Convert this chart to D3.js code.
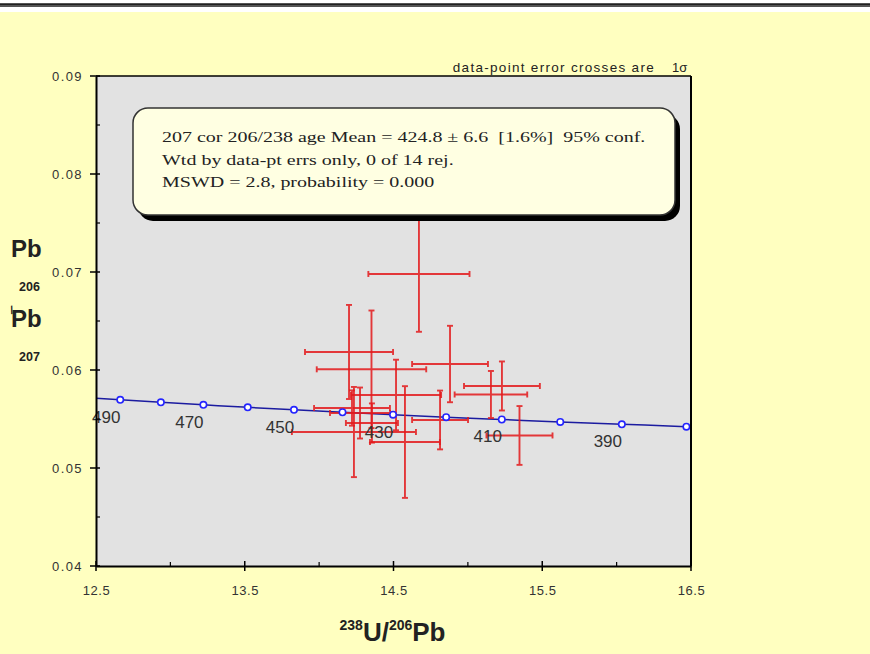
<!DOCTYPE html>
<html>
<head>
<meta charset="utf-8">
<script src="https://cdn.jsdelivr.net/npm/d3@7"></script>
<style>
  body { margin: 0; background: #ffffc0; }
  svg { display: block; }
  text { font-family: "Liberation Sans", Arial, Helvetica, sans-serif; }
</style>
</head>
<body>
<div id="chart"></div>
<script>
// ---- data ----
// 238U/206Pb, 207Pb/206Pb and 1 sigma errors for the 14 spots
var ratioU = [14.671, 14.201, 14.352, 14.880, 15.155, 15.229, 15.347, 14.234, 14.577, 14.221, 14.813, 14.517, 14.275, 14.355];
var ratioPb = [0.0698, 0.06184, 0.06007, 0.06061, 0.0575, 0.05837, 0.05332, 0.05367, 0.05265, 0.05612, 0.0549, 0.05745, 0.05561, 0.05459];
var errU = [0.340, 0.296, 0.368, 0.255, 0.244, 0.255, 0.222, 0.417, 0.235, 0.255, 0.188, 0.303, 0.202, 0.175];
var errPb = [0.0059, 0.0048, 0.0060, 0.0039, 0.0024, 0.0025, 0.0030, 0.0046, 0.0057, 0.0018, 0.0030, 0.0036, 0.0026, 0.0020];

// concordia (Tera-Wasserburg) age marks, Ma
var concAges = [490, 480, 470, 460, 450, 440, 430, 420, 410, 400, 390, 380];
var concU = [12.663, 12.936, 13.222, 13.520, 13.831, 14.157, 14.497, 14.854, 15.228, 15.621, 16.035, 16.469];
var concPb = [0.05696, 0.05670, 0.05645, 0.05619, 0.05594, 0.05569, 0.05544, 0.05519, 0.05495, 0.05470, 0.05446, 0.05422];
// curve ends at the plot edges
var concEndU = [12.5, 16.5];
var concEndPb = [0.05712, 0.05420];
var labelAges = [490, 470, 450, 430, 410, 390];

var xTicks = [12.5, 13.5, 14.5, 15.5, 16.5];
var yTicks = [0.04, 0.05, 0.06, 0.07, 0.08, 0.09];

var boxLines = [
  "207 cor 206/238 age Mean = 424.8 \u00b1 6.6  [1.6%]  95% conf.",
  "Wtd by data-pt errs only, 0 of 14 rej.",
  "MSWD = 2.8, probability = 0.000"
];

var svgWidth = 870;
var svgHeight = 654;

var margin = { top: 76, left: 96, right: 179, bottom: 88 };
var width = svgWidth - margin.left - margin.right;
var height = svgHeight - margin.top - margin.bottom;

var svg = d3.select("#chart")
  .append("svg")
  .attr("width", svgWidth)
  .attr("height", svgHeight);

// page background + the rule at the very top
svg.append("rect")
  .attr("width", svgWidth).attr("height", svgHeight)
  .attr("fill", "#ffffc0");
svg.append("rect")
  .attr("x", 0).attr("y", 0).attr("width", svgWidth).attr("height", 12)
  .attr("fill", "#ffffff");
svg.append("rect")
  .attr("x", 0).attr("y", 3).attr("width", svgWidth).attr("height", 4)
  .attr("fill", "#555");
svg.append("line")
  .attr("x1", 0).attr("x2", svgWidth).attr("y1", 4.5).attr("y2", 4.5)
  .attr("stroke", "#222").attr("stroke-width", 1);

var chartGroup = svg.append("g")
  .attr("transform", `translate(${margin.left}, ${margin.top})`);

var xScale = d3.scaleLinear().domain([12.5, 16.5]).range([0, width]);
var yScale = d3.scaleLinear().domain([0.04, 0.09]).range([height, 0]);

// plot area
chartGroup.append("rect")
  .attr("width", width).attr("height", height)
  .attr("fill", "#e2e2e2");

chartGroup.append("clipPath").attr("id", "plotclip")
  .append("rect").attr("width", width).attr("height", height);

// concordia curve
var concPts = [[concEndU[0], concEndPb[0]]];
concU.forEach(function(u, i) { concPts.push([u, concPb[i]]); });
concPts.push([concEndU[1], concEndPb[1]]);

var line = d3.line()
  .x(d => xScale(d[0]))
  .y(d => yScale(d[1]))
  .curve(d3.curveMonotoneX);

var plot = chartGroup.append("g").attr("clip-path", "url(#plotclip)");

plot.append("path")
  .datum(concPts)
  .attr("d", line)
  .attr("fill", "none")
  .attr("stroke", "#1c1ca0")
  .attr("stroke-width", 1.5);

// error crosses
var spots = ratioU.map(function(u, i) {
  return { u: u, pb: ratioPb[i], su: errU[i], spb: errPb[i] };
});
var cap = 3;
var crosses = plot.selectAll(".cross")
  .data(spots)
  .enter()
  .append("g")
  .attr("class", "cross")
  .attr("stroke", "#e41a1c")
  .attr("stroke-width", 1.9)
  .attr("opacity", 0.85);

crosses.append("line")
  .attr("x1", d => xScale(d.u - d.su)).attr("x2", d => xScale(d.u + d.su))
  .attr("y1", d => yScale(d.pb)).attr("y2", d => yScale(d.pb));
crosses.append("line")
  .attr("x1", d => xScale(d.u)).attr("x2", d => xScale(d.u))
  .attr("y1", d => yScale(d.pb - d.spb)).attr("y2", d => yScale(d.pb + d.spb));
// caps
[-1, 1].forEach(function(s) {
  crosses.append("line")
    .attr("x1", d => xScale(d.u + s * d.su)).attr("x2", d => xScale(d.u + s * d.su))
    .attr("y1", d => yScale(d.pb) - cap).attr("y2", d => yScale(d.pb) + cap);
  crosses.append("line")
    .attr("x1", d => xScale(d.u) - cap).attr("x2", d => xScale(d.u) + cap)
    .attr("y1", d => yScale(d.pb + s * d.spb)).attr("y2", d => yScale(d.pb + s * d.spb));
});

// concordia age markers
plot.selectAll(".mark")
  .data(concAges)
  .enter()
  .append("circle")
  .attr("class", "mark")
  .attr("cx", (d, i) => xScale(concU[i]))
  .attr("cy", (d, i) => yScale(concPb[i]))
  .attr("r", 3.2)
  .attr("fill", "#fff")
  .attr("stroke", "#2424ff")
  .attr("stroke-width", 1.6);

// age labels (every other mark)
chartGroup.selectAll(".agelabel")
  .data(labelAges)
  .enter()
  .append("text")
  .attr("class", "agelabel")
  .attr("x", d => xScale(concU[concAges.indexOf(d)]) - 14)
  .attr("y", d => yScale(concPb[concAges.indexOf(d)]) + 23)
  .attr("text-anchor", "middle")
  .style("font-size", "17px")
  .attr("fill", "#333")
  .text(d => d);

// frame: top and right borders
chartGroup.append("line")
  .attr("x1", 0).attr("x2", width).attr("y1", 0).attr("y2", 0)
  .attr("stroke", "#000").attr("stroke-width", 1.5);
chartGroup.append("line")
  .attr("x1", width).attr("x2", width).attr("y1", 0).attr("y2", height)
  .attr("stroke", "#000").attr("stroke-width", 2);

// axes
var xAxis = d3.axisBottom(xScale).tickValues(xTicks).tickFormat(d3.format(".1f"))
  .tickSizeInner(0).tickSizeOuter(0).tickPadding(20);
var yAxis = d3.axisLeft(yScale).tickValues(yTicks).tickFormat(d3.format(".2f"))
  .tickSizeInner(0).tickSizeOuter(0).tickPadding(13);

var gx = chartGroup.append("g")
  .attr("transform", `translate(0, ${height})`)
  .call(xAxis);
var gy = chartGroup.append("g").call(yAxis);

[gx, gy].forEach(function(g) {
  g.select(".domain").attr("stroke", "#000").attr("stroke-width", 2);
  g.selectAll("text").style("font-size", "13px").attr("fill", "#333");
});
gx.selectAll("text").style("letter-spacing", "0.6px");
gy.selectAll("text").style("letter-spacing", "1.4px");

// major ticks cross the axis, minor ticks point inward
var xMinor = d3.range(13.0, 16.5, 1);
gx.selectAll(".maj").data(xTicks).enter().append("line")
  .attr("x1", d => xScale(d)).attr("x2", d => xScale(d))
  .attr("y1", -5).attr("y2", 5).attr("stroke", "#000").attr("stroke-width", 1.5);
gx.selectAll(".min").data(xMinor).enter().append("line")
  .attr("x1", d => xScale(d)).attr("x2", d => xScale(d))
  .attr("y1", -4).attr("y2", 0).attr("stroke", "#000").attr("stroke-width", 1.2);

var yMinor = [0.045, 0.055, 0.065, 0.075, 0.085];
gy.selectAll(".maj").data(yTicks).enter().append("line")
  .attr("y1", d => yScale(d)).attr("y2", d => yScale(d))
  .attr("x1", -6).attr("x2", 4).attr("stroke", "#000").attr("stroke-width", 1.5);
gy.selectAll(".min").data(yMinor).enter().append("line")
  .attr("y1", d => yScale(d)).attr("y2", d => yScale(d))
  .attr("x1", 0).attr("x2", 4).attr("stroke", "#000").attr("stroke-width", 1.2);

// x axis title 238U/206Pb
var xTitle = svg.append("text")
  .attr("x", margin.left + width / 2 - 1)
  .attr("y", 641)
  .attr("text-anchor", "middle")
  .style("font-weight", "bold")
  .attr("fill", "#222");
xTitle.append("tspan").style("font-size", "14px").attr("dy", -11).text("238");
xTitle.append("tspan").style("font-size", "26px").attr("dy", 11).text("U/");
xTitle.append("tspan").style("font-size", "14px").attr("dy", -11).text("206");
xTitle.append("tspan").style("font-size", "26px").attr("dy", 11).text("Pb");

// y axis title, stacked the way the original renders it
var yTitle = svg.append("g").style("font-weight", "bold").attr("fill", "#222");
yTitle.append("text").attr("x", 11).attr("y", 257).style("font-size", "24px").text("Pb");
yTitle.append("text").attr("x", 19).attr("y", 291).style("font-size", "12.5px").text("206");
yTitle.append("text").attr("x", 11).attr("y", 327).style("font-size", "24px").text("Pb");
yTitle.append("text").attr("x", 11).attr("y", 314)
  .attr("transform", "rotate(-12, 11, 314)")
  .style("font-size", "11px").text("/");
yTitle.append("text").attr("x", 19).attr("y", 361).style("font-size", "12.5px").text("207");

// note above the plot
svg.append("text")
  .attr("x", 655).attr("y", 72)
  .attr("text-anchor", "end")
  .style("font-size", "13.5px")
  .style("letter-spacing", "1.3px")
  .attr("fill", "#222")
  .text("data-point error crosses are");
svg.append("text")
  .attr("x", 672).attr("y", 72)
  .style("font-size", "13px")
  .attr("fill", "#222")
  .text("1\u03c3");

// results box with drop shadow
var box = { x: 133, y: 108, w: 542, h: 107, r: 15 };
svg.append("rect")
  .attr("x", box.x + 5).attr("y", box.y + 6)
  .attr("width", box.w).attr("height", box.h)
  .attr("rx", box.r)
  .attr("fill", "#000");
svg.append("rect")
  .attr("x", box.x).attr("y", box.y)
  .attr("width", box.w).attr("height", box.h)
  .attr("rx", box.r)
  .attr("fill", "#ffffe2")
  .attr("stroke", "#333")
  .attr("stroke-width", 1.5);

// the original text is set wide, so stretch it horizontally
svg.selectAll(".boxline")
  .data(boxLines)
  .enter()
  .append("text")
  .attr("class", "boxline")
  .attr("transform", (d, i) => `translate(162, ${142 + i * 22.5}) scale(1.29, 1)`)
  .style("font-family", "'Liberation Serif', 'Times New Roman', serif")
  .style("font-size", "15.5px")
  .attr("fill", "#222")
  .attr("xml:space", "preserve")
  .style("white-space", "pre")
  .text(d => d);
</script>
</body>
</html>
